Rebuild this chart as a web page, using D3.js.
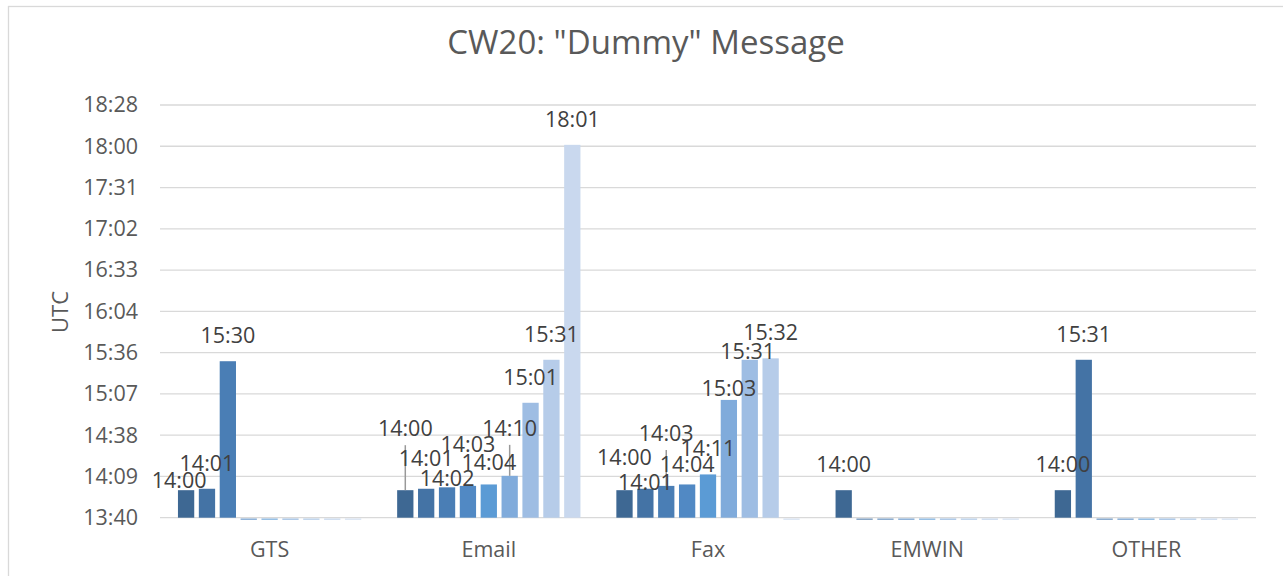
<!DOCTYPE html>
<html>
<head>
<meta charset="utf-8">
<script src="https://cdn.jsdelivr.net/npm/d3@7"></script>
<style>
    body { margin: 0; background: #fff; }
    text { font-family: "Open Sans", sans-serif; }
</style>
</head>
<body>
<div id="chart"></div>
<script>
const categories = ["GTS", "Email", "Fax", "EMWIN", "OTHER"];
const series = ["S1", "S2", "S3", "S4", "S5", "S6", "S7", "S8", "S9"];

// times per category, one entry per series (null = no value, drawn flat)
const gtsTimes = ["14:00", "14:01", "15:30", null, null, null, null, null, null];
const emailTimes = ["14:00", "14:01", "14:02", "14:03", "14:04", "14:10", "15:01", "15:31", "18:01"];
const faxTimes = ["14:00", "14:01", "14:03", "14:04", "14:11", "15:03", "15:31", "15:32", null];
const emwinTimes = ["14:00", null, null, null, null, null, null, null, null];
const otherTimes = ["14:00", "15:31", null, null, null, null, null, null, null];

const tickLabels = ["13:40", "14:09", "14:38", "15:07", "15:36", "16:04",
    "16:33", "17:02", "17:31", "18:00", "18:28"];

const colors = ["#3e6893", "#4473a5", "#4a7eb5", "#5189c4", "#5b9bd5",
    "#80abdb", "#9ebde3", "#b6cce9", "#c9d8ee"];

const width = 1283;
const height = 576;
const plotLeft = 160, plotRight = 1256, plotTop = 105, plotBottom = 517.7;

// axis runs 0.57 .. 0.77 day in steps of 0.02 day (28.8 min)
const yMin = 0.57 * 1440;
const yMax = 0.77 * 1440;
const step = 0.02 * 1440;

const toMin = t => {
    const [h, m] = t.split(":").map(Number);
    return h * 60 + m;
};

const rows = [gtsTimes, emailTimes, faxTimes, emwinTimes, otherTimes];

// manually moved data labels [dx, dy, leader line]
const labelMoves = {
    "GTS-0": [-7, 16],
    "Email-0": [0, -36, true],
    "Email-1": [0, -5],
    "Email-2": [0, 17],
    "Email-3": [0, -16],
    "Email-4": [0, 4],
    "Email-5": [0, -22, true],
    "Fax-0": [0, -7],
    "Fax-1": [0, 19],
    "Fax-2": [0, -27, true],
    "Fax-3": [0, 6],
    "Fax-5": [0, 14],
    "Fax-6": [-2, 17]
};

const svg = d3.select("#chart")
    .append("svg")
    .attr("width", width)
    .attr("height", height);

svg.append("rect")
    .attr("x", 8.5)
    .attr("y", 6.5)
    .attr("width", 1290)
    .attr("height", 600)
    .attr("fill", "#fff")
    .attr("stroke", "#d9d9d9")
    .attr("stroke-width", 1.3);

const x0 = d3.scaleBand()
    .domain(categories)
    .range([plotLeft, plotRight]);

const cw = x0.bandwidth();
const s = cw / (series.length + 1.5);

const x1 = d3.scaleBand()
    .domain(series)
    .range([0.75 * s, cw - 0.75 * s])
    .paddingInner(0.22)
    .paddingOuter(0.11);

const y = d3.scaleLinear()
    .domain([yMin, yMax])
    .range([plotBottom, plotTop]);

const tickValues = tickLabels.map((d, i) => yMin + i * step);

// gridlines
svg.append("g")
    .selectAll("line")
    .data(tickValues)
    .enter()
    .append("line")
    .attr("x1", plotLeft)
    .attr("x2", plotRight)
    .attr("y1", d => y(d))
    .attr("y2", d => y(d))
    .attr("stroke", "#d9d9d9")
    .attr("stroke-width", 1.3);

const yAxis = svg.append("g")
    .attr("transform", `translate(${plotLeft},0)`)
    .call(d3.axisLeft(y)
        .tickValues(tickValues)
        .tickFormat((d, i) => tickLabels[i])
        .tickSize(0)
        .tickPadding(22));

yAxis.select(".domain").remove();
yAxis.selectAll("text")
    .attr("fill", "#595959")
    .style("font-size", "21.5px")
    .style("font-family", "'Open Sans', sans-serif");

const xAxis = svg.append("g")
    .attr("transform", `translate(0,${plotBottom})`)
    .call(d3.axisBottom(x0).tickSize(0).tickPadding(24));

xAxis.select(".domain").remove();
xAxis.selectAll("text")
    .attr("fill", "#595959")
    .style("font-size", "21.5px")
    .style("font-family", "'Open Sans', sans-serif");

const points = [];
rows.forEach((row, ci) => {
    row.forEach((t, si) => {
        points.push({
            cat: categories[ci],
            ser: series[si],
            si: si,
            time: t,
            v: t ? toMin(t) : null
        });
    });
});

svg.append("g")
    .selectAll("rect")
    .data(points)
    .enter()
    .append("rect")
    .attr("x", d => x0(d.cat) + x1(d.ser))
    .attr("width", x1.bandwidth())
    .attr("y", d => d.v === null ? plotBottom + 0.8 : y(d.v))
    .attr("height", d => d.v === null ? 1.4 : plotBottom - y(d.v))
    .attr("fill", d => colors[d.si])
    .attr("opacity", d => d.v === null ? 0.7 : 1);

const labelled = points.filter(d => d.v !== null);

const labelPos = d => {
    const m = labelMoves[`${d.cat}-${d.si}`] || [0, 0];
    return {
        x: x0(d.cat) + x1(d.ser) + x1.bandwidth() / 2 + m[0],
        y: y(d.v) - 18 + m[1],
        leader: m[2]
    };
};

svg.append("g")
    .selectAll("line")
    .data(labelled.filter(d => labelPos(d).leader))
    .enter()
    .append("line")
    .attr("x1", d => x0(d.cat) + x1(d.ser) + x1.bandwidth() / 2)
    .attr("x2", d => x0(d.cat) + x1(d.ser) + x1.bandwidth() / 2)
    .attr("y1", d => labelPos(d).y + 9)
    .attr("y2", d => y(d.v))
    .attr("stroke", "#999999")
    .attr("stroke-width", 1.5);

svg.append("g")
    .selectAll("text")
    .data(labelled)
    .enter()
    .append("text")
    .attr("x", d => labelPos(d).x)
    .attr("y", d => labelPos(d).y)
    .attr("text-anchor", "middle")
    .attr("fill", "#404040")
    .style("font-size", "21.5px")
    .text(d => d.time);

svg.append("text")
    .attr("transform", "translate(68,312) rotate(-90)")
    .attr("text-anchor", "middle")
    .attr("fill", "#595959")
    .style("font-size", "22px")
    .text("UTC");

svg.append("text")
    .attr("x", 646)
    .attr("y", 53.5)
    .attr("text-anchor", "middle")
    .attr("fill", "#595959")
    .style("font-size", "33px")
    .text("CW20: \"Dummy\" Message");
</script>
</body>
</html>
